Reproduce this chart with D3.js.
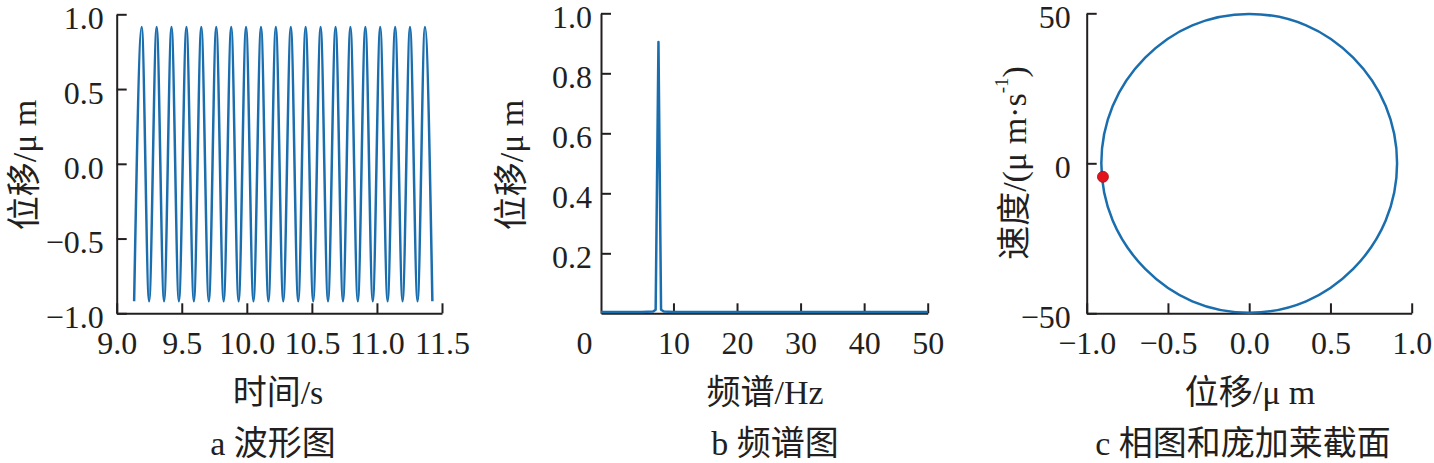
<!DOCTYPE html>
<html lang="zh">
<head>
    <meta charset="UTF-8">
    <title>波形图 / 频谱图 / 相图</title>
    <style>
        body { margin: 0; background: #fff; }
        .axis path, .axis line { stroke: #231f20; stroke-width: 2; }
        .axis text { font-family: "Liberation Serif", "Times New Roman", serif; font-size: 32px; fill: #231f20; }
        .title { font-family: "Liberation Serif", "Noto Sans CJK SC", serif; font-size: 34px; fill: #231f20; }
    </style>
</head>
<body>
<div id="chart"></div>
<script src="https://cdnjs.cloudflare.com/ajax/libs/d3/7.8.5/d3.min.js"></script>
<script>

// ---------- data ----------

// a: waveform, extremes of the displacement signal (time in s, displacement in um)
const waveT = [9.134, 9.192, 9.249, 9.307, 9.364, 9.421, 9.478, 9.536, 9.593, 9.650,
               9.708, 9.765, 9.822, 9.880, 9.937, 9.994, 10.051, 10.109, 10.166, 10.223,
               10.280, 10.338, 10.395, 10.452, 10.510, 10.567, 10.624, 10.682, 10.739, 10.796,
               10.853, 10.911, 10.968, 11.025, 11.082, 11.140, 11.197, 11.254, 11.312, 11.369,
               11.426];
const waveY = [-0.92, 0.915, -0.92, 0.915, -0.92, 0.915, -0.92, 0.915, -0.92, 0.915,
               -0.92, 0.915, -0.92, 0.915, -0.92, 0.915, -0.92, 0.915, -0.92, 0.915,
               -0.92, 0.915, -0.92, 0.915, -0.92, 0.915, -0.92, 0.915, -0.92, 0.915,
               -0.92, 0.915, -0.92, 0.915, -0.92, 0.915, -0.92, 0.915, -0.92, 0.915,
               -0.92];
const waveXTicks = [9.0, 9.5, 10.0, 10.5, 11.0, 11.5];
const waveYTicks = [-1.0, -0.5, 0.0, 0.5, 1.0];

// b: spectrum (Hz, um)
const specF = [-1.4, 5, 6.8, 7.2, 7.64, 8.05, 8.5, 10, 20, 50];
const specA = [0.004, 0.004, 0.006, 0.012, 0.904, 0.012, 0.006, 0.004, 0.004, 0.004];
const specXTicks = [0, 10, 20, 30, 40, 50];
const specYTicks = [0.2, 0.4, 0.6, 0.8, 1.0];

// c: phase portrait (um, um/s) and the Poincare point
const phaseX = [0.91, 0.84, 0.64, 0.35, 0, -0.35, -0.64, -0.84,
                -0.91, -0.84, -0.64, -0.35, 0, 0.35, 0.64, 0.84];
const phaseV = [0, 19.1, 35.2, 46.0, 49.8, 46.0, 35.2, 19.1,
                0, -19.1, -35.2, -46.0, -49.8, -46.0, -35.2, -19.1];
const poincareX = [-0.90];
const poincareV = [-4.5];
const phaseXTicks = [-1.0, -0.5, 0.0, 0.5, 1.0];
const phaseYTicks = [-50, 0, 50];

const blue = "#1b6eae";

// ---------- page ----------
const W = 1434, H = 463;
const svg = d3.select("#chart").append("svg")
    .attr("width", W).attr("height", H);

const top0 = 14.3, bottom0 = 313.3;   // shared plot top / bottom

// helpers for the inward ticks used by all three panels
function xAxis(g, x, ticks, fmt) {
    g.attr("class", "axis")
     .attr("transform", `translate(0, ${bottom0})`)
     .call(d3.axisBottom(x).tickValues(ticks).tickFormat(fmt)
        .tickSizeInner(-10).tickSizeOuter(0).tickPadding(18));
}
function yAxis(g, y, ticks, fmt, left, pad) {
    g.attr("class", "axis")
     .attr("transform", `translate(${left}, 0)`)
     .call(d3.axisLeft(y).tickValues(ticks).tickFormat(fmt)
        .tickSizeInner(-10).tickSizeOuter(0).tickPadding(pad));
    // labels sit a little below their ticks in the reference
    g.selectAll(".tick text").attr("dy", "0.45em");
}

// ---------- Panel a ----------
const xa = d3.scaleLinear().domain([9, 11.5]).range([116.7, 442]);
const ya = d3.scaleLinear().domain([-1, 1]).range([bottom0, top0]);

svg.append("g").call(xAxis, xa, waveXTicks, d3.format(".1f"));
svg.append("g").call(yAxis, ya, waveYTicks, d3.format(".1f"), 116.7, 13);

svg.append("path")
    .datum(waveT.map((t, i) => [t, waveY[i]]))
    .attr("fill", "none")
    .attr("stroke", blue)
    .attr("stroke-width", 2.5)
    .attr("d", d3.line().x(d => xa(d[0])).y(d => ya(d[1])).curve(d3.curveMonotoneX));

svg.append("text").attr("class", "title")
    .attr("transform", "translate(24, 165) rotate(-90)")
    .attr("text-anchor", "middle").attr("dominant-baseline", "central")
    .text("位移/μ m");
svg.append("text").attr("class", "title")
    .attr("x", 278).attr("y", 404).attr("text-anchor", "middle")
    .text("时间/s");
svg.append("text").attr("class", "title")
    .attr("x", 273).attr("y", 455).attr("text-anchor", "middle")
    .text("a 波形图");

// ---------- Panel b ----------
const xb = d3.scaleLinear().domain([-1.4, 50]).range([601, 927.7]);
const yb = d3.scaleLinear().domain([0, 1]).range([bottom0, 13.3]);

const gxb = svg.append("g").call(xAxis, xb, specXTicks, d3.format("d"));
// the 0 label sits left of the axis, with no tick of its own
gxb.selectAll(".tick").filter(d => d === 0).select("line").remove();
gxb.selectAll(".tick").filter(d => d === 0).select("text").attr("dx", -26);
svg.append("g").call(yAxis, yb, specYTicks, d3.format(".1f"), 601, 9);

svg.append("path")
    .datum(specF.map((f, i) => [f, specA[i]]))
    .attr("fill", "none")
    .attr("stroke", blue)
    .attr("stroke-width", 2.5)
    .attr("stroke-linejoin", "round")
    .attr("d", d3.line().x(d => xb(d[0])).y(d => yb(d[1])));

svg.append("text").attr("class", "title")
    .attr("transform", "translate(511, 165) rotate(-90)")
    .attr("text-anchor", "middle").attr("dominant-baseline", "central")
    .text("位移/μ m");
svg.append("text").attr("class", "title")
    .attr("x", 765).attr("y", 404).attr("text-anchor", "middle")
    .text("频谱/Hz");
svg.append("text").attr("class", "title")
    .attr("x", 775).attr("y", 455).attr("text-anchor", "middle")
    .text("b 频谱图");

// ---------- Panel c ----------
const xc = d3.scaleLinear().domain([-1, 1]).range([1086.7, 1411.7]);
const yc = d3.scaleLinear().domain([-50, 50]).range([bottom0, 13.3]);

svg.append("g").call(xAxis, xc, phaseXTicks, d3.format(".1f"));
svg.append("g").call(yAxis, yc, phaseYTicks, d3.format("d"), 1086.7, 16);

svg.append("path")
    .datum(phaseX.map((p, i) => [p, phaseV[i]]))
    .attr("fill", "none")
    .attr("stroke", blue)
    .attr("stroke-width", 2.5)
    .attr("d", d3.line().x(d => xc(d[0])).y(d => yc(d[1])).curve(d3.curveCatmullRomClosed));

svg.selectAll(".poincare")
    .data(poincareX.map((p, i) => [p, poincareV[i]]))
    .join("circle")
    .attr("class", "poincare")
    .attr("cx", d => xc(d[0]))
    .attr("cy", d => yc(d[1]))
    .attr("r", 5.5)
    .attr("fill", "#e3141c")
    .attr("stroke", "#a01015")
    .attr("stroke-width", 0.8);

const yt = svg.append("text").attr("class", "title")
    .attr("transform", "translate(1014, 163) rotate(-90)")
    .attr("text-anchor", "middle").attr("dominant-baseline", "central");
yt.append("tspan").text("速度/(μ m·s");
yt.append("tspan").attr("font-size", "19px").attr("dy", -13).text("-1");
yt.append("tspan").attr("dy", 13).text(")");

svg.append("text").attr("class", "title")
    .attr("x", 1250).attr("y", 404).attr("text-anchor", "middle")
    .text("位移/μ m");
svg.append("text").attr("class", "title")
    .attr("x", 1243).attr("y", 455).attr("text-anchor", "middle")
    .text("c 相图和庞加莱截面");

</script>
</body>
</html>
